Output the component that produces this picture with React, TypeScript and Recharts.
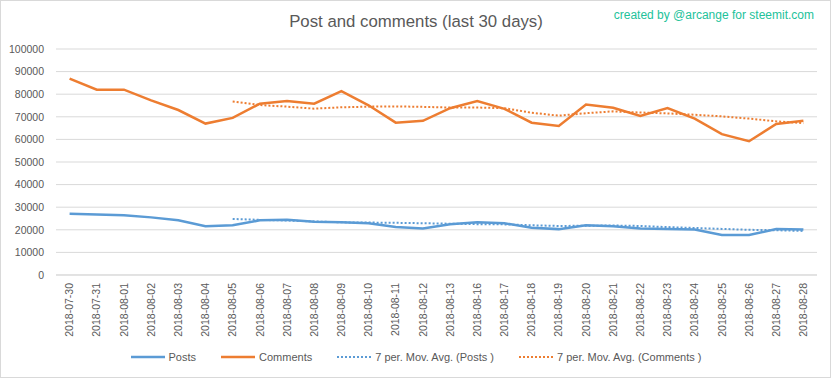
import React from 'react';
import { LineChart, Line, XAxis, YAxis, CartesianGrid, Legend } from 'recharts';

const dates = [
  '2018-07-30', '2018-07-31', '2018-08-01', '2018-08-02', '2018-08-03', '2018-08-04', '2018-08-05',
  '2018-08-06', '2018-08-07', '2018-08-08', '2018-08-09', '2018-08-10', '2018-08-11', '2018-08-12',
  '2018-08-13', '2018-08-16', '2018-08-17', '2018-08-18', '2018-08-19', '2018-08-20', '2018-08-21',
  '2018-08-22', '2018-08-23', '2018-08-24', '2018-08-25', '2018-08-26', '2018-08-27', '2018-08-28',
];

const posts = [
  27100, 26800, 26400, 25500, 24200, 21600, 22000,
  24200, 24500, 23600, 23300, 22900, 21200, 20600,
  22500, 23300, 22900, 20900, 20300, 22000, 21600,
  20600, 20300, 20100, 17700, 17700, 20300, 20100,
];

const comments = [
  86900, 82000, 82000, 77250, 73000, 67000, 69500,
  75800, 77000, 75800, 81350, 75100, 67400, 68200,
  73800, 77000, 73500, 67400, 65900, 75400, 74000,
  70400, 73900, 69200, 62300, 59200, 66800, 68300,
];

const postsAvg = [
  null, null, null, null, null, null, 24800,
  24400, 24100, 23700, 23300, 23200, 23100, 22900,
  22700, 22500, 22400, 22000, 21700, 21800, 21900,
  21700, 21200, 20800, 20400, 20000, 19800, 19500,
];

const commentsAvg = [
  null, null, null, null, null, null, 76800,
  75200, 74500, 73600, 74200, 74500, 74600, 74400,
  74100, 74100, 73800, 71800, 70500, 71600, 72400,
  71900, 71500, 70900, 70200, 69200, 68000, 67200,
];

const yTicks = [0, 10000, 20000, 30000, 40000, 50000, 60000, 70000, 80000, 90000, 100000];

const BLUE = '#5B9BD5';
const ORANGE = '#ED7D31';
const TEXT = '#595959';
const GRID = '#D9D9D9';
const FONT = '"Liberation Sans", Arial, sans-serif';

const data = dates.map((d, i) => ({
  date: d,
  posts: posts[i],
  comments: comments[i],
  postsAvg: postsAvg[i],
  commentsAvg: commentsAvg[i],
}));

const legendItems = [
  { label: 'Posts', color: BLUE, dotted: false },
  { label: 'Comments', color: ORANGE, dotted: false },
  { label: '7 per. Mov. Avg. (Posts )', color: BLUE, dotted: true },
  { label: '7 per. Mov. Avg. (Comments )', color: ORANGE, dotted: true },
];

const XTick = (props: any) => {
  const { x, y, payload } = props;
  return (
    <g transform={`translate(${x},${y})`}>
      <text
        x={0}
        y={0}
        dy="0.35em"
        transform="rotate(-90)"
        textAnchor="end"
        fill={TEXT}
        fontSize={10.5}
        fontFamily={FONT}
      >
        {payload.value}
      </text>
    </g>
  );
};

const LegendContent = () => (
  <div
    style={{
      display: 'flex',
      justifyContent: 'center',
      alignItems: 'center',
      height: 20,
      fontFamily: FONT,
      fontSize: 11,
      color: TEXT,
    }}
  >
    {legendItems.map((it, idx) => (
      <div
        key={it.label}
        style={{ display: 'flex', alignItems: 'center', marginRight: idx < legendItems.length - 1 ? 25 : 0 }}
      >
        <svg width={34} height={6} style={{ marginRight: 4 }}>
          <line
            x1={0}
            y1={3}
            x2={34}
            y2={3}
            stroke={it.color}
            strokeWidth={it.dotted ? 2 : 2.5}
            strokeDasharray={it.dotted ? '2 2' : undefined}
          />
        </svg>
        <span style={{ whiteSpace: 'nowrap' }}>{it.label}</span>
      </div>
    ))}
  </div>
);

export default function App() {
  return (
    <div style={{ position: 'absolute', left: 0, top: 0, width: 832, height: 378, background: '#fff' }}>
      <div
        style={{
          position: 'absolute',
          left: 0,
          top: 0,
          width: 831,
          height: 378,
          boxSizing: 'border-box',
          border: `1px solid ${GRID}`,
        }}
      />
      <LineChart
        width={832}
        height={378}
        data={data}
        margin={{ top: 49, right: 15, bottom: 0, left: 0 }}
      >
        <CartesianGrid vertical={false} stroke={GRID} strokeWidth={1} />
        <XAxis
          dataKey="date"
          interval={0}
          height={83}
          tickLine={false}
          axisLine={{ stroke: GRID }}
          padding={{ left: 13.6, right: 13.6 }}
          tick={<XTick />}
        />
        <YAxis
          width={56}
          domain={[0, 100000]}
          ticks={yTicks}
          interval={0}
          tickLine={false}
          axisLine={false}
          tickMargin={6}
          tick={{ fill: TEXT, fontSize: 10.5, fontFamily: FONT }}
        />
        <Legend
          verticalAlign="bottom"
          content={<LegendContent />}
          wrapperStyle={{ left: 0, width: 832, bottom: 11, height: 20 }}
        />
        <Line
          type="linear"
          dataKey="posts"
          name="Posts"
          stroke={BLUE}
          strokeWidth={2.5}
          dot={false}
          isAnimationActive={false}
        />
        <Line
          type="linear"
          dataKey="comments"
          name="Comments"
          stroke={ORANGE}
          strokeWidth={2.5}
          dot={false}
          isAnimationActive={false}
        />
        <Line
          type="linear"
          dataKey="postsAvg"
          name="7 per. Mov. Avg. (Posts )"
          stroke={BLUE}
          strokeWidth={2}
          strokeDasharray="2 2"
          dot={false}
          isAnimationActive={false}
        />
        <Line
          type="linear"
          dataKey="commentsAvg"
          name="7 per. Mov. Avg. (Comments )"
          stroke={ORANGE}
          strokeWidth={2}
          strokeDasharray="2 2"
          dot={false}
          isAnimationActive={false}
        />
      </LineChart>
      <svg
        width={832}
        height={378}
        style={{ position: 'absolute', left: 0, top: 0, pointerEvents: 'none' }}
      >
        <text x={416} y={27} textAnchor="middle" fill={TEXT} fontSize={16.8} fontFamily={FONT}>
          Post and comments (last 30 days)
        </text>
        <text x={814} y={18.5} textAnchor="end" fill="#22C29A" fontSize={12} fontFamily={FONT}>
          created by @arcange for steemit.com
        </text>
      </svg>
    </div>
  );
}
